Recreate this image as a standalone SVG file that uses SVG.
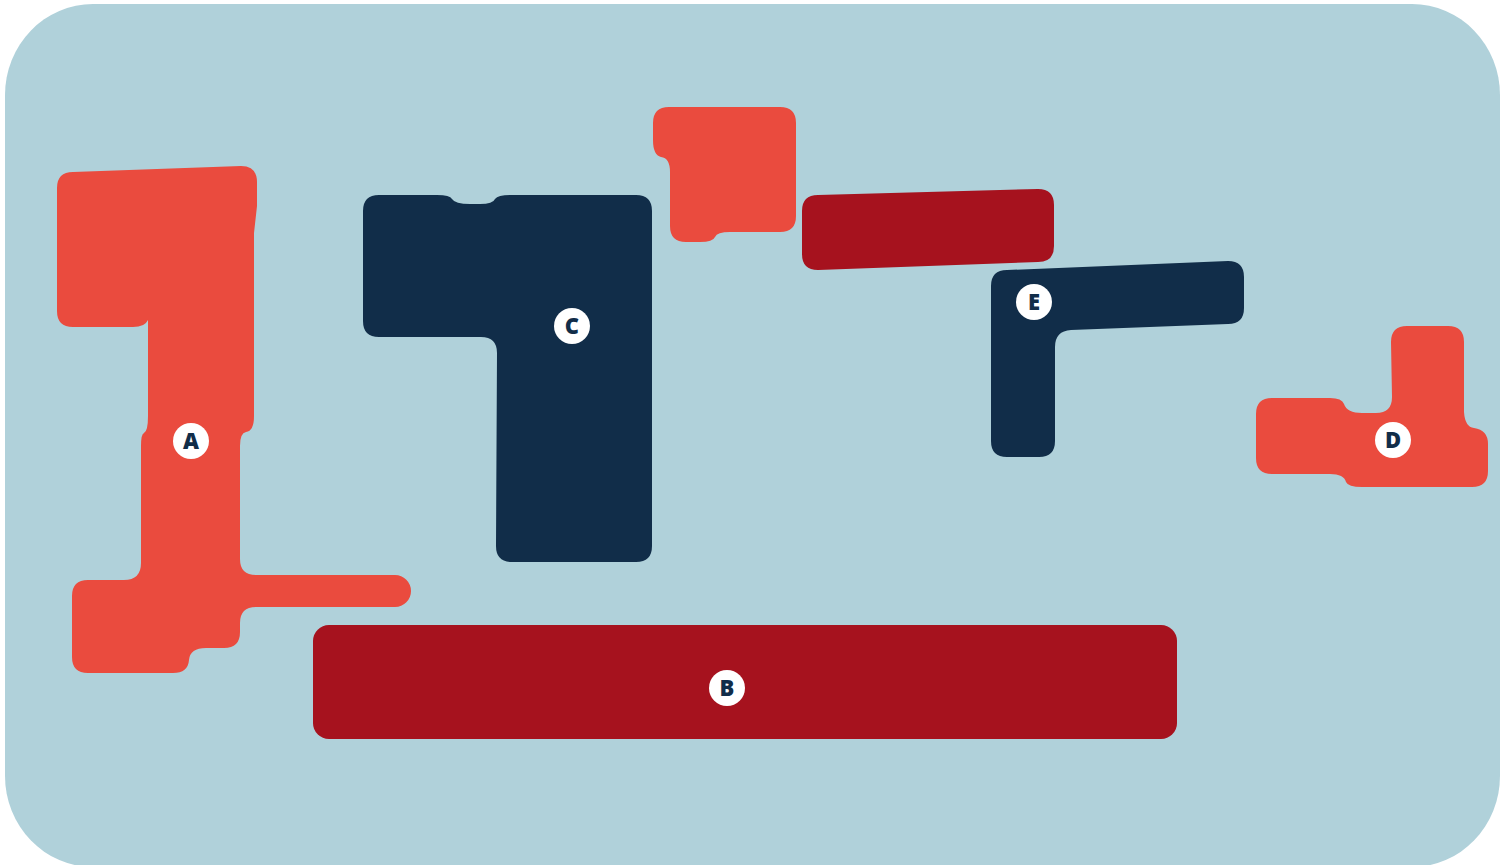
<svg xmlns="http://www.w3.org/2000/svg" width="1511" height="865" viewBox="0 0 1511 865">
<style>
.bg{fill:#B0D1DA}
.red{fill:#EA4B3E}
.dred{fill:#A6121E}
.navy{fill:#112D49}
.badge{fill:#FFFFFF}
.lbl{fill:#112D49;font-family:"Open Sans",Lato,"Liberation Sans",sans-serif;font-weight:800;font-size:22px;text-anchor:middle;dominant-baseline:central}
</style>
<rect x="0" y="0" width="1511" height="865" fill="#FFFFFF"/>
<rect class="bg" x="5" y="4" width="1495" height="863" rx="88" ry="91"/>
<g id="A">
<path class="red" d="M73,172 L241,166 Q257,166 257,182 L257,206 L254,233 L254,416 Q254,431 246,432 Q240,433 240,446 L240,559 Q240,575 256,575 L395,575 A16,16 0 0 1 395,607 L256,607 Q240,607 240,623 L240,632 Q240,648 224,648 L206,648 Q190,648 189,660 Q188,673 173,673 L88,673 Q72,673 72,657 L72,596 Q72,580 88,580 L124,580 Q141,580 141,563 L141,446 Q141,434 144,433 Q148,431 148,416 L148,320 Q145,327 133,327 L73,327 Q57,327 57,311 L57,188 Q57,172 73,172 Z"/>
<circle class="badge" cx="191" cy="441" r="18"/>
<text class="lbl" x="191" y="440">A</text>
</g>
<g id="B">
<rect class="dred" x="313" y="625" width="864" height="114" rx="16"/>
<circle class="badge" cx="727" cy="688" r="18"/>
<text class="lbl" x="727" y="687">B</text>
</g>
<g id="C">
<path class="navy" d="M379,195 L437,195 Q450,195 452,199 Q455,204 470,204 L480,204 Q493,204 495,199 Q498,195 511,195 L636,195 Q652,195 652,211 L652,546 Q652,562 636,562 L512,562 Q496,562 496,546 L497,353 Q497,337 481,337 L379,337 Q363,337 363,321 L363,211 Q363,195 379,195 Z"/>
<circle class="badge" cx="572" cy="326" r="18"/>
<text class="lbl" x="572" y="325">C</text>
</g>
<g id="F">
<path class="red" d="M669,107 L780,107 Q796,107 796,123 L796,216 Q796,232 780,232 L730,232 Q717,232 715,237 Q713,242 700,242 L686,242 Q670,242 670,226 L670,172 Q670,158 661,157 Q653,155 653,140 L653,123 Q653,107 669,107 Z"/>
</g>
<g id="G">
<path class="dred" d="M818,195 L1038,189 Q1054,189 1054,205 L1054,246 Q1054,262 1038,262 L818,270 Q802,270 802,254 L802,211 Q802,195 818,195 Z"/>
</g>
<g id="E">
<path class="navy" d="M1007,270 L1228,261 Q1244,261 1244,277 L1244,308 Q1244,324 1228,324 L1071,330 Q1055,331 1055,347 L1055,441 Q1055,457 1039,457 L1007,457 Q991,457 991,441 L991,286 Q991,270 1007,270 Z"/>
<circle class="badge" cx="1034" cy="302" r="18"/>
<text class="lbl" x="1034" y="301">E</text>
</g>
<g id="D">
<path class="red" d="M1407,326 L1448,326 Q1464,326 1464,342 L1464,412 Q1465,427 1474,428 Q1488,430 1488,444 L1488,471 Q1488,487 1472,487 L1362,487 Q1348,487 1346,482 Q1344,474 1330,474 L1272,474 Q1256,474 1256,458 L1256,414 Q1256,398 1272,398 L1330,398 Q1342,398 1344,404 Q1347,413 1362,413 L1376,413 Q1392,413 1392,397 L1391,342 Q1391,326 1407,326 Z"/>
<circle class="badge" cx="1393" cy="440" r="18"/>
<text class="lbl" x="1393" y="439">D</text>
</g>
<g id="connectors"></g>
</svg>
